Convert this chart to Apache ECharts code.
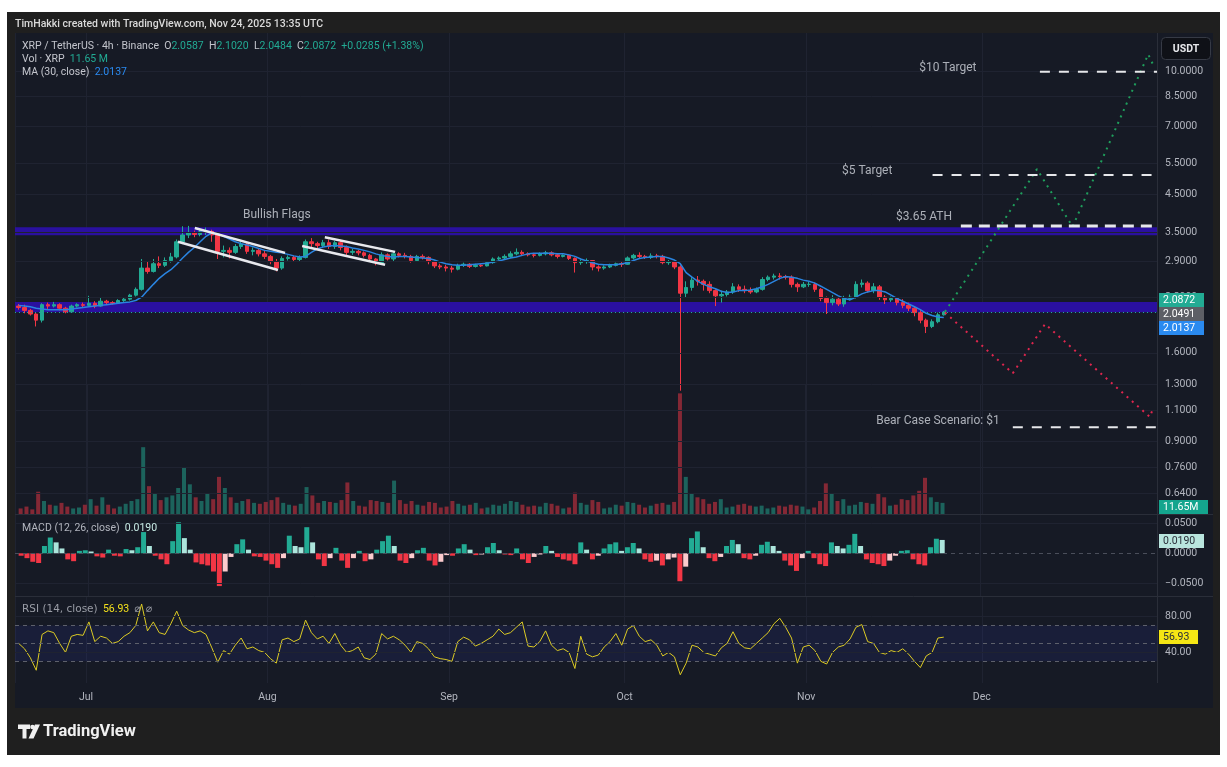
<!DOCTYPE html>
<html>
<head>
<meta charset="utf-8">
<script src="https://cdn.jsdelivr.net/npm/echarts@6/dist/echarts.min.js"></script>
<style>
html, body { margin: 0; padding: 0; background: #fff; }
#chart { width: 1227px; height: 767px; }
</style>
</head>
<body>
<div id="chart"></div>
<script>
// XRP/USDT, one candle per day: [open, close, low, high]
const candles = [
  // Jun 19 - 30
  [2.17,2.15,2.12,2.20],[2.15,2.11,2.07,2.19],[2.11,2.06,2.04,2.13],[2.06,1.98,1.90,2.08],[1.98,2.19,1.95,2.21],[2.19,2.17,2.13,2.22],
  [2.17,2.19,2.15,2.23],[2.19,2.14,2.11,2.21],[2.14,2.09,2.07,2.16],[2.09,2.17,2.08,2.19],[2.17,2.19,2.15,2.21],[2.19,2.18,2.15,2.22],
  // Jul
  [2.18,2.21,2.16,2.32],[2.21,2.17,2.14,2.24],[2.17,2.24,2.16,2.29],[2.24,2.22,2.19,2.26],[2.22,2.21,2.19,2.24],[2.21,2.25,2.20,2.27],
  [2.25,2.27,2.23,2.30],[2.27,2.33,2.25,2.35],[2.33,2.42,2.31,2.45],[2.42,2.78,2.40,2.95],[2.78,2.72,2.68,2.90],[2.72,2.86,2.70,2.95],
  [2.86,2.83,2.78,3.00],[2.83,2.92,2.80,2.98],[2.92,2.99,2.88,3.07],[2.99,3.30,2.96,3.35],[3.30,3.45,3.25,3.65],[3.45,3.50,3.38,3.66],
  [3.50,3.46,3.40,3.55],[3.46,3.52,3.42,3.58],[3.52,3.53,3.45,3.62],[3.53,3.45,3.30,3.57],[3.45,3.10,2.95,3.48],[3.10,3.12,2.98,3.22],
  [3.12,3.08,2.96,3.18],[3.08,3.20,3.05,3.25],[3.20,3.25,3.15,3.30],[3.25,3.10,3.05,3.28],[3.10,3.12,3.02,3.18],[3.12,3.05,3.00,3.15],
  [3.05,3.00,2.95,3.12],
  // Aug
  [3.00,2.90,2.85,3.03],[2.90,2.78,2.72,2.95],[2.78,2.96,2.75,3.00],[2.96,2.98,2.92,3.02],[2.98,2.94,2.90,3.01],[2.94,2.98,2.90,3.02],
  [2.98,3.30,2.96,3.35],[3.30,3.26,3.18,3.38],[3.26,3.22,3.17,3.30],[3.22,3.28,3.18,3.34],[3.28,3.20,3.15,3.35],[3.20,3.28,3.15,3.32],
  [3.28,3.18,3.12,3.34],[3.18,3.08,3.02,3.22],[3.08,3.10,3.03,3.15],[3.10,3.07,3.02,3.13],[3.07,3.02,2.98,3.10],[3.02,2.95,2.90,3.05],
  [2.95,2.88,2.83,2.97],[2.88,3.03,2.85,3.08],[3.03,2.95,2.92,3.06],[2.95,3.05,2.90,3.10],[3.05,3.02,2.98,3.08],[3.02,3.00,2.96,3.07],
  [3.00,2.92,2.88,3.03],[2.92,3.00,2.90,3.03],[3.00,2.98,2.94,3.04],[2.98,2.90,2.85,3.00],[2.90,2.82,2.78,2.92],[2.82,2.80,2.76,2.86],
  [2.80,2.78,2.72,2.84],
  // Sep
  [2.78,2.76,2.70,2.82],[2.76,2.83,2.74,2.86],[2.83,2.85,2.80,2.88],[2.85,2.81,2.78,2.87],[2.81,2.83,2.79,2.86],[2.83,2.82,2.80,2.85],
  [2.82,2.88,2.81,2.91],[2.88,2.95,2.86,2.98],[2.95,2.97,2.92,3.00],[2.97,3.00,2.94,3.04],[3.00,3.05,2.97,3.10],[3.05,3.08,3.02,3.16],
  [3.08,3.05,3.02,3.12],[3.05,3.03,3.00,3.08],[3.03,3.02,2.98,3.07],[3.02,3.05,3.00,3.08],[3.05,3.07,3.02,3.11],[3.07,3.03,3.00,3.10],
  [3.03,3.00,2.96,3.06],[3.00,3.02,2.98,3.04],[3.02,2.96,2.93,3.03],[2.96,2.88,2.70,2.98],[2.88,2.90,2.84,2.94],[2.90,2.92,2.86,2.96],
  [2.92,2.80,2.74,2.93],[2.80,2.78,2.72,2.83],[2.78,2.80,2.75,2.83],[2.80,2.83,2.78,2.86],[2.83,2.86,2.81,2.88],[2.86,2.85,2.80,2.89],
  // Oct
  [2.85,2.97,2.84,3.00],[2.97,3.02,2.94,3.05],[3.02,3.00,2.96,3.08],[3.00,2.98,2.95,3.03],[2.98,3.01,2.95,3.06],[3.01,3.00,2.96,3.05],
  [3.00,2.88,2.85,3.03],[2.88,2.90,2.84,2.93],[2.90,2.80,2.76,2.91],[2.80,2.36,1.25,2.83],[2.36,2.45,2.30,2.55],[2.45,2.57,2.40,2.62],
  [2.57,2.55,2.48,2.64],[2.55,2.50,2.40,2.58],[2.50,2.40,2.36,2.55],[2.40,2.32,2.17,2.42],[2.32,2.34,2.22,2.40],[2.34,2.38,2.31,2.41],
  [2.38,2.46,2.35,2.52],[2.46,2.42,2.38,2.50],[2.42,2.40,2.36,2.48],[2.40,2.38,2.35,2.45],[2.38,2.42,2.36,2.45],[2.42,2.58,2.40,2.62],
  [2.58,2.62,2.55,2.65],[2.62,2.64,2.58,2.68],[2.64,2.63,2.58,2.69],[2.63,2.62,2.58,2.66],[2.62,2.50,2.45,2.65],[2.50,2.46,2.38,2.53],
  [2.46,2.50,2.44,2.54],
  // Nov 1 - 24
  [2.50,2.50,2.46,2.54],[2.50,2.42,2.38,2.53],[2.42,2.28,2.24,2.44],[2.28,2.22,2.06,2.31],[2.22,2.27,2.18,2.33],[2.27,2.20,2.17,2.30],
  [2.20,2.28,2.16,2.32],[2.28,2.30,2.25,2.34],[2.30,2.50,2.28,2.55],[2.50,2.52,2.45,2.58],[2.52,2.40,2.37,2.55],[2.40,2.46,2.36,2.52],
  [2.46,2.30,2.26,2.49],[2.30,2.26,2.20,2.33],[2.26,2.28,2.23,2.31],[2.28,2.22,2.18,2.30],[2.22,2.18,2.14,2.27],[2.18,2.14,2.10,2.22],
  [2.14,2.08,2.03,2.17],[2.08,1.98,1.94,2.12],[1.98,1.90,1.82,2.00],[1.90,1.96,1.88,1.99],[1.96,2.05,1.94,2.08],[2.05,2.087,2.04,2.10]
]

// MA (30, close), blue line
const ma30 = [
  2.18,2.17,2.16,2.14,2.13,2.12,2.12,2.12,2.12,2.13,2.14,2.15,
  2.16,2.17,2.18,2.19,2.2,2.21,2.22,2.23,2.25,2.3,2.4,2.5,2.6,2.68,2.75,2.85,2.97,3.08,3.18,3.3,3.42,3.5,3.48,3.42,3.36,3.3,3.26,3.23,3.2,3.16,3.12,
  3.1,3.08,3.07,3.04,3.01,2.99,3.0,3.08,3.15,3.19,3.21,3.22,3.21,3.2,3.17,3.15,3.12,3.09,3.05,3.02,3.0,2.99,3.0,3.0,2.99,2.98,2.97,2.96,2.93,2.89,2.86,
  2.84,2.83,2.83,2.84,2.85,2.86,2.87,2.89,2.91,2.94,2.97,2.99,3.02,3.05,3.06,3.06,3.06,3.06,3.05,3.05,3.03,3.0,2.95,2.91,2.88,2.85,2.84,2.84,2.84,2.86,
  2.88,2.92,2.96,2.98,2.99,3.0,3.0,2.97,2.93,2.86,2.7,2.62,2.55,2.5,2.46,2.43,2.39,2.37,2.38,2.4,2.4,2.41,2.43,2.46,2.5,2.55,2.6,2.63,2.62,2.6,2.57,
  2.55,2.52,2.47,2.42,2.37,2.32,2.28,2.26,2.3,2.35,2.38,2.4,2.4,2.38,2.33,2.28,2.24,2.2,2.16,2.12,2.07,2.04,2.02,2.014
]

// volume, millions of XRP (peak bar of each day)
const volumes = [
  6,8,5,24,14,10,9,12,8,6,7,10,
  16,9,18,10,6,8,11,14,16,72,30,22,15,18,20,28,50,32,18,14,22,16,40,28,18,12,14,16,12,11,13,
  15,18,12,10,9,11,29,20,12,14,13,12,15,34,14,9,8,15,14,13,12,36,15,11,14,10,9,13,12,7,8,
  14,11,9,10,12,6,7,10,9,11,14,13,10,8,9,8,12,11,9,6,7,23,12,10,15,13,6,7,10,9,
  13,12,10,7,9,11,12,10,13,130,40,22,18,16,11,13,16,7,8,10,11,9,8,9,6,7,9,8,10,9,8,
  5,7,14,33,22,14,16,9,10,13,12,11,22,18,9,10,16,15,20,25,39,18,13,12
]

// MACD (12, 26) histogram
const macdHist = [
  -0.004,-0.008,-0.014,-0.016,0.012,0.026,0.018,0.008,-0.010,-0.013,0.004,0.005,
  0.003,-0.005,-0.007,0.006,-0.004,-0.005,0.007,0.005,0.010,0.035,0.012,-0.004,-0.010,-0.018,0.020,0.051,0.025,0.006,-0.015,-0.018,-0.020,-0.030,-0.054,-0.030,-0.006,0.015,0.023,0.006,-0.005,-0.006,-0.012,
  -0.018,-0.024,-0.008,0.029,0.012,0.010,0.043,0.018,-0.010,-0.021,-0.008,0.009,-0.012,-0.024,-0.008,0.004,-0.013,-0.010,0.006,0.020,0.029,0.012,-0.012,-0.016,-0.008,0.005,0.009,-0.012,-0.020,-0.014,-0.003,
  -0.004,0.008,0.015,0.006,-0.003,-0.002,0.010,0.017,0.005,-0.002,-0.003,0.008,-0.010,-0.016,-0.006,-0.002,0.012,0.004,-0.006,-0.010,-0.012,-0.018,0.018,0.006,-0.010,-0.004,0.008,0.015,0.018,0.004,
  0.010,0.017,0.008,-0.010,-0.014,-0.012,-0.020,-0.010,-0.007,-0.046,-0.022,0.025,0.036,0.010,-0.008,-0.013,-0.006,0.012,0.022,0.015,-0.008,-0.010,-0.004,0.014,0.019,0.012,0.004,-0.012,-0.020,-0.029,-0.008,
  0.004,-0.008,-0.018,-0.021,0.018,0.012,0.008,0.014,0.032,0.012,-0.010,-0.016,-0.018,-0.021,-0.012,-0.004,0.004,0.005,-0.010,-0.018,-0.020,0.010,0.024,0.022
]

// RSI (14, close)
const rsi = [
  50,44,34,20,60,64,62,50,40,58,60,59,
  74,52,58,56,50,52,58,62,70,94,64,74,62,60,72,86,70,65,62,64,60,45,29,42,38,48,56,44,46,42,40,
  33,28,54,56,52,55,76,62,55,58,50,61,48,40,42,46,34,32,38,61,55,58,54,48,40,52,50,44,35,33,32,
  30,52,57,54,47,50,54,58,66,60,62,68,74,47,46,52,64,48,42,44,40,22,58,38,35,37,46,52,61,48,
  66,70,58,52,54,48,36,40,35,15,28,48,46,40,38,36,45,50,63,50,45,44,50,56,62,72,78,68,56,28,46,
  48,42,30,27,40,46,48,55,68,71,52,50,40,38,42,40,44,38,30,23,36,40,56,57
]

const priceTicks = [10, 8.5, 7, 5.5, 4.5, 3.5, 2.9, 2.3, 1.6, 1.3, 1.1, 0.9, 0.76, 0.64]
const macdTicks = [0.05, 0, -0.05]
const rsiTicks = [80, 40]
const rsiLevels = [70, 50, 30]
const monthNames = ['Jan','Feb','Mar','Apr','May','Jun','Jul','Aug','Sep','Oct','Nov','Dec']

const supportZone = [2.085, 2.23]
const athZone = [3.445, 3.63]
const lastPrice = 2.0872

// drawn annotations
const bullishFlags = [
  [['2025-07-19 14:00', 3.61], ['2025-08-04 00:00', 3.07]],
  [['2025-07-16 17:00', 3.30], ['2025-08-02 19:00', 2.745]],
  [['2025-08-10 19:00', 3.40], ['2025-08-22 19:00', 3.09]],
  [['2025-08-06 22:00', 3.21], ['2025-08-21 02:00', 2.84]]
]
const bullPath = [['2025-11-24 17:00', 2.09], ['2025-12-10 10:00', 5.30], ['2025-12-16 12:00', 3.64], ['2025-12-29 10:00', 11.2], ['2025-12-30 05:00', 10.5]]
const bearPath = [['2025-11-24 17:00', 2.08], ['2025-12-06 07:00', 1.40], ['2025-12-11 19:00', 1.93], ['2025-12-29 17:00', 1.053], ['2025-12-30 05:00', 1.11]]
const targetLines = [
  { price: 10, from: '2025-12-10 22:00', to: '2025-12-30 22:00', width: 2 },
  { price: 5.1, from: '2025-11-22 14:00', to: '2025-12-30 22:00', width: 2 },
  { price: 3.66, from: '2025-11-27 10:00', to: '2025-12-30 05:00', width: 3 },
  { price: 0.985, from: '2025-12-06 07:00', to: '2025-12-30 22:00', width: 2 }
]
const notes = [
  { name: 'Bullish Flags', at: ['2025-08-02 14:00', 3.93] },
  { name: '$10 Target', at: ['2025-11-25 05:00', 10.24] },
  { name: '$5 Target', at: ['2025-11-11 10:00', 5.23] },
  { name: '$3.65 ATH', at: ['2025-11-21 03:00', 3.88] },
  { name: 'Bear Case Scenario: $1', at: ['2025-11-23 12:00', 1.026] }
]

function ts(s) {
  const [d, h] = s.split(' ')
  const [y, m, dd] = d.split('-').map(Number)
  const [hh, mm] = (h || '00:00').split(':').map(Number)
  return new Date(y, m - 1, dd, hh, mm).getTime()
}

const DAY = 86400000
const firstDay = new Date(2025, 5, 19, 12).getTime()
const days = candles.map((c, i) => firstDay + i * DAY)
const xMin = ts('2025-06-18 21:00')
const xMax = ts('2025-12-30 22:00')

const UP = '#22ab94', DOWN = '#f23645'
const FONT = 'Roboto, "Noto Sans", sans-serif'
const AXIS_TXT = '#b2b5be'
const GRID_LINE = '#1f2331'

let chart = echarts.init(document.getElementById('chart'))

function timeAxis(gridIndex, labels) {
  return {
    type: 'time', gridIndex: gridIndex, min: xMin, max: xMax,
    minInterval: 28 * DAY, maxInterval: 31 * DAY,
    axisLine: { show: false }, axisTick: { show: false },
    axisLabel: {
      show: labels, color: AXIS_TXT, fontSize: 10.5, fontFamily: FONT, margin: 9,
      showMinLabel: false, showMaxLabel: false,
      formatter: v => monthNames[new Date(v).getMonth()]
    },
    splitLine: { show: true, lineStyle: { color: GRID_LINE, width: 1 } }
  }
}

function tickLines(values, fmt) {
  return {
    silent: true, symbol: ['none', 'none'], precision: 4,
    lineStyle: { color: GRID_LINE, width: 1, type: 'solid' },
    label: { position: 'end', distance: 8, color: AXIS_TXT, fontSize: 10.5, fontFamily: FONT, formatter: p => fmt(p.value) },
    emphasis: { disabled: true },
    data: values.map(v => ({ yAxis: v }))
  }
}

const volData = volumes.map((v, i) => ({
  value: [days[i], v],
  itemStyle: { color: candles[i][1] >= candles[i][0] ? 'rgba(34,171,148,0.5)' : 'rgba(242,54,69,0.5)' }
}))

const macdData = macdHist.map((v, i) => {
  const prev = i > 0 ? macdHist[i - 1] : 0
  let c
  if (v >= 0) c = v >= prev ? '#22ab94' : '#ace5dc'
  else c = v <= prev ? '#f23645' : '#fccbcd'
  return { value: [days[i], v], itemStyle: { color: c } }
})

const series = [
  {
    // zones and price scale lines
    type: 'line', xAxisIndex: 0, yAxisIndex: 0, data: [], z: 1, silent: true,
    markArea: {
      silent: true,
      itemStyle: { color: '#2a10a0', opacity: 1 },
      data: [
        [{ yAxis: supportZone[0] }, { yAxis: supportZone[1] }],
        [{ yAxis: athZone[0] }, { yAxis: athZone[1] }]
      ]
    },
    markLine: tickLines(priceTicks, v => Number(v).toFixed(4))
  },
  {
    type: 'candlestick', xAxisIndex: 0, yAxisIndex: 0, z: 3, barWidth: 4, silent: true,
    itemStyle: { color: UP, color0: DOWN, borderColor: UP, borderColor0: DOWN, borderWidth: 1 },
    data: candles.map((c, i) => [days[i], c[0], c[1], c[2], c[3]]),
    markLine: {
      silent: true, symbol: ['none', 'none'], precision: 4,
      lineStyle: { color: UP, width: 1, type: [1, 3] },
      label: { show: false },
      data: [{ yAxis: lastPrice }]
    }
  },
  {
    type: 'line', xAxisIndex: 0, yAxisIndex: 0, z: 4, showSymbol: false, silent: true,
    lineStyle: { color: '#2a84e0', width: 1.5 },
    data: ma30.map((v, i) => [days[i], v])
  },
  ...bullishFlags.map(seg => ({
    type: 'line', xAxisIndex: 0, yAxisIndex: 0, z: 5, showSymbol: false, silent: true,
    lineStyle: { color: '#e8e9ee', width: 2.5 },
    data: seg.map(p => [ts(p[0]), p[1]])
  })),
  {
    type: 'line', xAxisIndex: 0, yAxisIndex: 0, z: 5, showSymbol: false, silent: true,
    lineStyle: { color: '#1f9e5c', width: 2, type: [2, 5] },
    data: bullPath.map(p => [ts(p[0]), p[1]])
  },
  {
    type: 'line', xAxisIndex: 0, yAxisIndex: 0, z: 5, showSymbol: false, silent: true,
    lineStyle: { color: '#e0264e', width: 2, type: [2, 5] },
    data: bearPath.map(p => [ts(p[0]), p[1]])
  },
  ...targetLines.map(l => ({
    type: 'line', xAxisIndex: 0, yAxisIndex: 0, z: 5, showSymbol: false, silent: true,
    lineStyle: { color: '#e6e7ea', width: l.width, type: l.width > 2 ? [11, 7] : [10, 9] },
    data: [[ts(l.from), l.price], [ts(l.to), l.price]]
  })),
  {
    type: 'scatter', xAxisIndex: 0, yAxisIndex: 0, z: 6, symbolSize: 1, silent: true,
    itemStyle: { color: 'transparent' },
    label: { show: true, position: 'inside', formatter: '{b}', color: '#d1d4dc', fontSize: 12, fontFamily: FONT },
    data: notes.map(n => ({ name: n.name, value: [ts(n.at[0]), n.at[1]] }))
  },
  {
    type: 'bar', xAxisIndex: 1, yAxisIndex: 1, z: 2, barWidth: 4, silent: true,
    data: volData
  },
  {
    type: 'bar', xAxisIndex: 2, yAxisIndex: 2, z: 3, barWidth: 5, silent: true,
    data: macdData,
    markLine: (() => {
      const m = tickLines(macdTicks, v => (v < 0 ? '\u2212' : '') + Math.abs(v).toFixed(4))
      m.data = macdTicks.map(v => v === 0
        ? { yAxis: v, lineStyle: { color: '#4a4e5a', type: [4, 4] } }
        : { yAxis: v })
      return m
    })()
  },
  {
    type: 'line', xAxisIndex: 3, yAxisIndex: 3, z: 4, showSymbol: false, silent: true,
    lineStyle: { color: '#dccb24', width: 1 },
    data: rsi.map((v, i) => [days[i], v]),
    markArea: {
      silent: true,
      itemStyle: { color: 'rgba(45,55,160,0.16)' },
      data: [[{ yAxis: 30 }, { yAxis: 70 }]]
    },
    markLine: (() => {
      const m = tickLines(rsiTicks, v => Number(v).toFixed(2))
      m.data = rsiTicks.map(v => ({ yAxis: v })).concat(rsiLevels.map(v => ({
        yAxis: v, lineStyle: { color: '#5d606b', type: [4, 4] }, label: { show: false }
      })))
      return m
    })()
  }
]

// right-side price tags, legend texts and frame
function tag(y, w, text, bg, fg) {
  return [
    { type: 'rect', z: 100, shape: { x: 1159, y: y, width: w, height: 14 }, style: { fill: bg } },
    { type: 'text', z: 101, x: 1163, y: y + 7, style: { text: text, fill: fg, fontSize: 10.5, fontFamily: FONT, verticalAlign: 'middle' } }
  ]
}

const graphic = [
  { type: 'rect', z: -100, shape: { x: 7, y: 12, width: 1213, height: 743 }, style: { fill: '#1f1f1f' } },
  { type: 'rect', z: -99, shape: { x: 15, y: 33, width: 1198, height: 675 }, style: { fill: '#161a25' } },
  { type: 'text', x: 15, y: 24, style: { text: 'TimHakki created with TradingView.com, Nov 24, 2025 13:35 UTC', fill: '#dadada', fontSize: 10.5, fontWeight: 500, fontFamily: FONT, verticalAlign: 'middle' } },
  { type: 'line', z: 50, shape: { x1: 1157.5, y1: 33, x2: 1157.5, y2: 683 }, style: { stroke: '#2a2e39', lineWidth: 1 } },
  { type: 'line', z: 50, shape: { x1: 15, y1: 514.5, x2: 1213, y2: 514.5 }, style: { stroke: '#2a2e39', lineWidth: 1 } },
  { type: 'line', z: 50, shape: { x1: 15, y1: 596.5, x2: 1213, y2: 596.5 }, style: { stroke: '#2a2e39', lineWidth: 1 } },
  {
    type: 'text', x: 22, y: 46, z: 60,
    style: {
      text: '{a|XRP / TetherUS · 4h · Binance}  {a|O}{g|2.0587}  {a|H}{g|2.1020}  {a|L}{g|2.0484}  {a|C}{g|2.0872}  {g|+0.0285 (+1.38%)}',
      verticalAlign: 'middle', fontFamily: FONT, fontSize: 10.5,
      rich: { a: { fill: '#c3c5cc', fontSize: 10.5, fontFamily: FONT }, g: { fill: UP, fontSize: 10.5, fontFamily: FONT } }
    }
  },
  {
    type: 'text', x: 22, y: 59, z: 60,
    style: {
      text: '{a|Vol · XRP}  {g|11.65 M}', verticalAlign: 'middle', fontFamily: FONT, fontSize: 10.5,
      rich: { a: { fill: '#c3c5cc', fontSize: 10.5, fontFamily: FONT }, g: { fill: UP, fontSize: 10.5, fontFamily: FONT } }
    }
  },
  {
    type: 'text', x: 22, y: 72, z: 60,
    style: {
      text: '{a|MA (30, close)}  {b|2.0137}', verticalAlign: 'middle', fontFamily: FONT, fontSize: 10.5,
      rich: { a: { fill: '#c3c5cc', fontSize: 10.5, fontFamily: FONT }, b: { fill: '#2a8af0', fontSize: 10.5, fontFamily: FONT } }
    }
  },
  {
    type: 'text', x: 22, y: 528, z: 60,
    style: {
      text: '{a|MACD (12, 26, close)}  {b|0.0190}', verticalAlign: 'middle', fontFamily: FONT, fontSize: 10.5,
      rich: { a: { fill: '#b2b5be', fontSize: 10.5, fontFamily: FONT }, b: { fill: '#c9ece6', fontSize: 10.5, fontFamily: FONT } }
    }
  },
  {
    type: 'text', x: 22, y: 609, z: 60,
    style: {
      text: '{a|RSI (14, close)}  {b|56.93}  {a|⌀}  {a|⌀}', verticalAlign: 'middle', fontFamily: FONT, fontSize: 10.5,
      rich: { a: { fill: '#9a9da6', fontSize: 10.5, fontFamily: '"DejaVu Sans", sans-serif' }, b: { fill: '#f3e01c', fontSize: 10.5, fontFamily: FONT } }
    }
  },
  // USDT currency button
  { type: 'rect', z: 100, shape: { x: 1161.5, y: 37.5, width: 49, height: 22, r: 4 }, style: { fill: '#0f1117', stroke: '#363a45', lineWidth: 1 } },
  { type: 'text', z: 101, x: 1186, y: 49, style: { text: 'USDT', fill: '#e6e7ea', fontSize: 10.5, fontWeight: 'bold', fontFamily: FONT, align: 'center', verticalAlign: 'middle' } },
  ...tag(293, 45, '2.0872', UP, '#ffffff'),
  ...tag(307, 45, '2.0491', '#5d5f66', '#ffffff'),
  ...tag(321, 45, '2.0137', '#2a8af0', '#ffffff'),
  ...tag(500, 49, '11.65M', '#14a58e', '#ffffff'),
  ...tag(534, 45, '0.0190', '#b9e5de', '#2a2e39'),
  ...tag(630, 39, '56.93', '#f5e614', '#2a2e39'),
  // TradingView logo
  { type: 'polygon', shape: { points: [[18, 724.5], [30, 724.5], [30, 729], [26.5, 729], [26.5, 738.5], [22.5, 738.5], [22.5, 729], [18, 729]] }, style: { fill: '#f0f0f0' } },
  { type: 'circle', shape: { cx: 32.5, cy: 727, r: 2.3 }, style: { fill: '#f0f0f0' } },
  { type: 'polygon', shape: { points: [[35, 724.5], [40, 724.5], [33.5, 738.5], [28.5, 738.5]] }, style: { fill: '#f0f0f0' } },
  { type: 'text', x: 43, y: 732, style: { text: 'TradingView', fill: '#f0f0f0', fontSize: 16.5, fontWeight: 'bold', fontFamily: FONT, verticalAlign: 'middle' } }
]

chart.setOption({
  animation: false,
  backgroundColor: '#ffffff',
  grid: [
    { left: 15, top: 33, width: 1142, height: 481 },
    { left: 15, top: 385, width: 1142, height: 129 },
    { left: 15, top: 515, width: 1142, height: 82 },
    { left: 15, top: 597, width: 1142, height: 86 }
  ],
  xAxis: [timeAxis(0, false), timeAxis(1, false), timeAxis(2, false), timeAxis(3, true)],
  yAxis: [
    { type: 'log', logBase: 10, gridIndex: 0, min: 0.5595, max: 12.87, show: false },
    { type: 'value', gridIndex: 1, min: 0, max: 139, show: false },
    { type: 'value', gridIndex: 2, min: -0.072, max: 0.0631, show: false },
    { type: 'value', gridIndex: 3, min: 5.8, max: 101.8, show: false }
  ],
  graphic: graphic,
  series: series
})
</script>
</body>
</html>
